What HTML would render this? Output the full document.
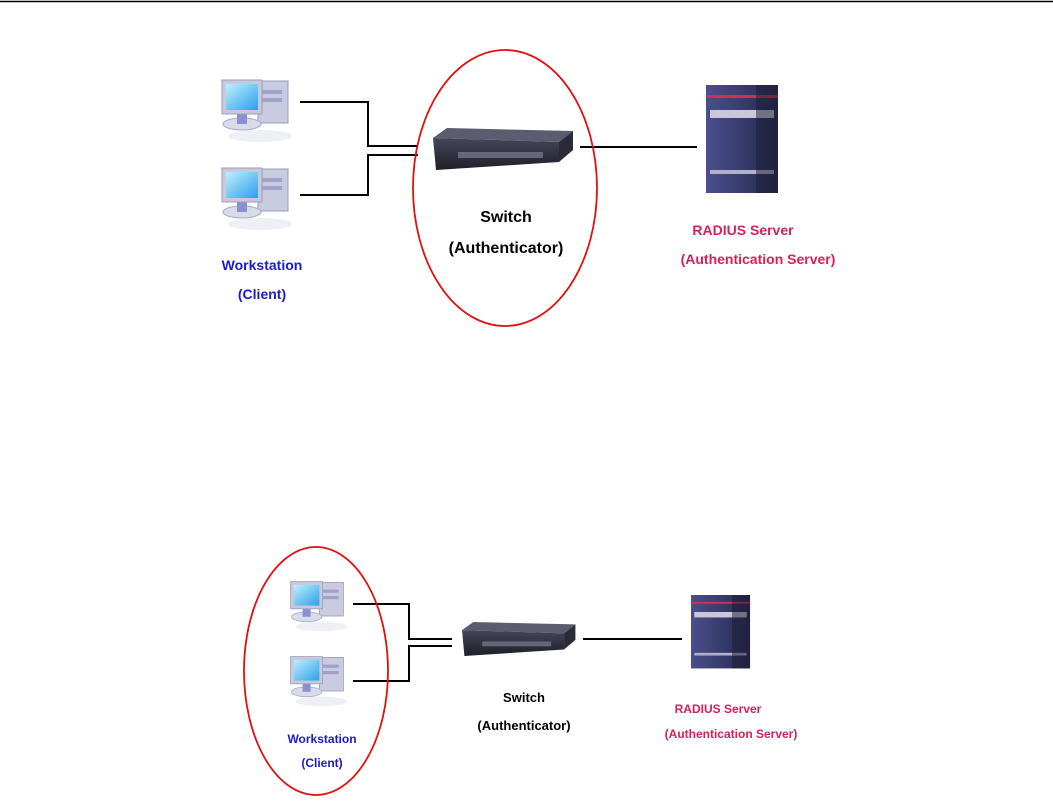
<!DOCTYPE html>
<html><head><meta charset="utf-8"><style>
html,body{margin:0;padding:0;background:#fff;width:1053px;height:801px;overflow:hidden}
svg text{font-family:"Liberation Sans",Arial,sans-serif;font-weight:bold;text-anchor:middle}
</style></head><body>
<svg width="1053" height="801" viewBox="0 0 1053 801" xmlns="http://www.w3.org/2000/svg">
<defs>
<linearGradient id="scr" x1="0" y1="0" x2="1" y2="1"><stop offset="0" stop-color="#bfefff"/><stop offset="1" stop-color="#2aa0e8"/></linearGradient>
<linearGradient id="sw" x1="0" y1="0" x2="0" y2="1"><stop offset="0" stop-color="#44465a"/><stop offset="1" stop-color="#1e1f28"/></linearGradient>
<linearGradient id="srv" x1="0" y1="0" x2="1" y2="0"><stop offset="0" stop-color="#4a4f8c"/><stop offset="1" stop-color="#25284e"/></linearGradient>
<g id="pc">
 <ellipse cx="40" cy="58" rx="32" ry="6" fill="#eef0f6"/>
 <rect x="38" y="3" width="30" height="42" fill="#c9cbe0" stroke="#9a9cc0"/>
 <rect x="42" y="12" width="20" height="4" fill="#9ea2c8"/>
 <rect x="42" y="20" width="20" height="4" fill="#9ea2c8"/>
 <ellipse cx="22" cy="46" rx="19" ry="6" fill="#d8dbe8" stroke="#a8aac8"/>
 <rect x="17" y="34" width="10" height="12" fill="#8a8fd0"/>
 <rect x="2" y="2" width="40" height="34" fill="#c8cadc" stroke="#9a9cbc"/>
 <rect x="6" y="6" width="32" height="26" fill="url(#scr)"/>
</g>
<g id="switch">
 <polygon points="14,0 140,3 126,14 0,10" fill="#5a5c70"/>
 <polygon points="0,10 126,14 126,34 3,42" fill="url(#sw)"/>
 <polygon points="126,14 140,3 140,22 126,34" fill="#2a2b36"/>
 <rect x="25" y="24" width="85" height="6" fill="#8a8ca2" opacity="0.6"/>
</g>
<g id="server">
 <rect x="0" y="0" width="72" height="108" fill="url(#srv)"/>
 <rect x="0" y="10" width="72" height="3" fill="#d03050"/>
 <rect x="4" y="25" width="64" height="8" fill="#c8c8d8"/>
 <rect x="4" y="85" width="64" height="4" fill="#b0b0c8"/>
 <rect x="50" y="0" width="22" height="108" fill="#1c1c30" opacity="0.5"/>
</g>
</defs>
<line x1="0" y1="1.5" x2="1053" y2="1.5" stroke="#000" stroke-width="1.5"/>

<use href="#pc" x="220" y="78"/>
<use href="#pc" x="220" y="166"/>
<polyline points="300,102 368,102 368,146 418,146" fill="none" stroke="#000" stroke-width="2"/>
<polyline points="300,195 368,195 368,155 418,155" fill="none" stroke="#000" stroke-width="2"/>
<use href="#switch" x="433" y="128"/>
<line x1="580" y1="147" x2="697" y2="147" stroke="#000" stroke-width="2"/>
<use href="#server" x="706" y="85"/>
<ellipse cx="505" cy="188" rx="92" ry="138" fill="none" stroke="#e01010" stroke-width="1.8"/>
<text x="506" y="222" font-size="16" fill="#000">Switch</text>
<text x="506" y="253" font-size="16" fill="#000">(Authenticator)</text>
<text x="262" y="270" font-size="14" fill="#1a1acc">Workstation</text>
<text x="262" y="299" font-size="14" fill="#1a1acc">(Client)</text>
<text x="743" y="235" font-size="14" fill="#d6205a">RADIUS Server</text>
<text x="758" y="264" font-size="14" fill="#d6205a">(Authentication Server)</text>

<g transform="translate(289,580) scale(0.8)"><use href="#pc"/></g>
<g transform="translate(289,655) scale(0.8)"><use href="#pc"/></g>
<polyline points="353,604 409,604 409,639 452,639" fill="none" stroke="#000" stroke-width="2"/>
<polyline points="353,681 409,681 409,646 452,646" fill="none" stroke="#000" stroke-width="2"/>
<g transform="translate(462,622) scale(0.81)"><use href="#switch"/></g>
<line x1="583" y1="639" x2="682" y2="639" stroke="#000" stroke-width="2"/>
<g transform="translate(691,595) scale(0.82,0.68)"><use href="#server"/></g>
<ellipse cx="316" cy="671" rx="72" ry="124" fill="none" stroke="#e01010" stroke-width="1.8"/>
<text x="524" y="702" font-size="13" fill="#000">Switch</text>
<text x="524" y="730" font-size="13" fill="#000">(Authenticator)</text>
<text x="322" y="743" font-size="12" fill="#1a1acc">Workstation</text>
<text x="322" y="767" font-size="12" fill="#1a1acc">(Client)</text>
<text x="718" y="713" font-size="12" fill="#d6205a">RADIUS Server</text>
<text x="731" y="738" font-size="12" fill="#d6205a">(Authentication Server)</text>
</svg>
</body></html>
